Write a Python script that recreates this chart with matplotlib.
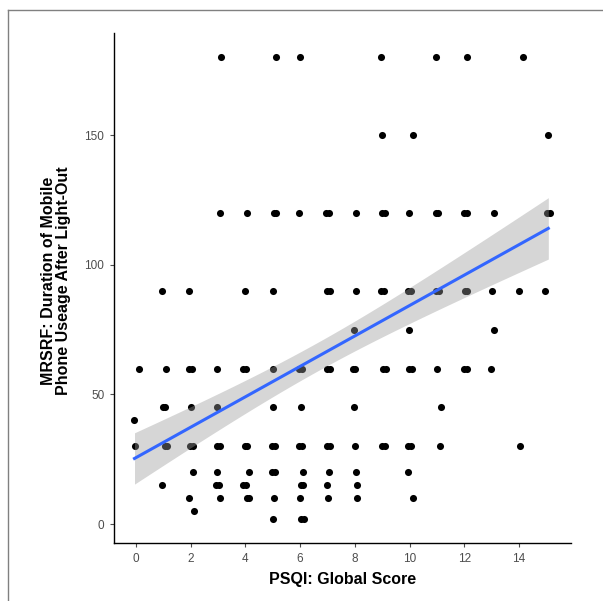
import numpy as np
import matplotlib
matplotlib.use("Agg")
import matplotlib.pyplot as plt
from matplotlib.lines import Line2D

# jittered PSQI scores (x) for each duration level (y)
row_180 = [3.1, 5.12, 5.99, 8.95, 10.95, 12.1, 14.13]
row_150 = [9.0, 10.13, 15.06]
row_120 = [3.07, 4.06, 5.03, 5.13, 5.95, 6.95, 7.05, 8.04, 8.99, 9.09, 9.98,
           10.95, 11.05, 12.0, 12.1, 13.07, 15.02, 15.12]
row_90 = [0.96, 1.94, 3.98, 5.0, 6.98, 7.08, 8.06, 8.95, 9.05, 9.95, 10.05,
          10.98, 11.08, 12.01, 12.11, 13.0, 14.0, 14.95]
row_75 = [7.97, 9.99, 13.07]
row_60 = [0.12, 1.1, 1.95, 2.05, 2.98, 3.93, 4.03, 5.02, 5.97, 6.07, 6.98, 7.08,
          7.92, 8.02, 9.03, 9.13, 9.99, 10.09, 11.01, 12.0, 12.1, 12.97]
row_45 = [0.98, 1.08, 2.0, 2.97, 5.02, 6.02, 7.98, 11.15]
row_40 = [-0.05]
row_30 = [-0.04, 1.05, 1.15, 1.98, 2.08, 2.98, 3.08, 3.97, 4.07, 4.97, 5.07,
          5.97, 6.07, 6.98, 7.08, 8.0, 8.99, 9.09, 9.94, 10.04, 11.1, 14.05]
row_20 = [2.09, 2.95, 4.12, 4.99, 5.09, 6.11, 7.05, 8.06, 9.96]
row_15 = [0.94, 2.93, 3.03, 3.93, 4.03, 6.02, 6.12, 6.99, 8.09]
row_10 = [1.95, 3.07, 4.05, 4.15, 5.04, 5.99, 7.03, 8.09, 10.13]
row_5 = [2.12]
row_2 = [5.02, 6.03, 6.13]

rows = {180: row_180, 150: row_150, 120: row_120, 90: row_90, 75: row_75,
        60: row_60, 45: row_45, 40: row_40, 30: row_30, 20: row_20,
        15: row_15, 10: row_10, 5: row_5, 2: row_2}

x_ticks = [0, 2, 4, 6, 8, 10, 12, 14]
y_ticks = [0, 50, 100, 150]

# lm smoother: line ends and band half-widths
lm_x_range = [-0.05, 15.07]
lm_intercept = 25.6
lm_slope = 5.87
lm_band_center = 6.6      # x where the band is narrowest
lm_band_min = 5.5         # half-width there
lm_band_left = 9.85       # half-width at x = 0

x = np.array([v for level in rows for v in rows[level]])
y = np.array([level for level in rows for _ in rows[level]], dtype=float)

xs = np.linspace(lm_x_range[0], lm_x_range[1], 80)
ys = lm_intercept + lm_slope * xs
curv = (lm_band_left ** 2 - lm_band_min ** 2) / lm_band_center ** 2
half = np.sqrt(lm_band_min ** 2 + curv * (xs - lm_band_center) ** 2)

plt.rcParams["font.family"] = ["Liberation Sans", "DejaVu Sans"]

fig = plt.figure(figsize=(6.03, 6.01), dpi=100)
ax = fig.add_axes([0.189, 0.0965, 0.758, 0.8485])

ax.scatter(x, y, s=26, color="black", linewidths=0, zorder=2)
ax.fill_between(xs, ys - half, ys + half, color="#999999", alpha=0.4,
                linewidth=0, zorder=3)
ax.plot(xs, ys, color="#3366FF", linewidth=2.2, zorder=4)

ax.set_xlim(-0.8, 15.9)
ax.set_ylim(-7.3, 189.4)
ax.set_xticks(x_ticks)
ax.set_yticks(y_ticks)
ax.tick_params(colors="#4D4D4D", labelcolor="#4D4D4D", labelsize=8.5,
               length=3, width=0.8)
ax.tick_params(axis="x", pad=4)
ax.tick_params(axis="y", pad=4)
for side in ["top", "right"]:
    ax.spines[side].set_visible(False)
for side in ["left", "bottom"]:
    ax.spines[side].set_linewidth(1.0)
    ax.spines[side].set_color("black")

ax.set_xlabel("PSQI: Global Score", fontsize=11.5, fontweight="bold", labelpad=5)
fig.text(0.0935, 0.533, "MRSRF: Duration of Mobile\nPhone Useage After Light-Out",
         rotation=90, ha="center", va="center", multialignment="center",
         fontsize=11.5, fontweight="bold", linespacing=1.0)

# thin frame of the original screenshot
fig.add_artist(Line2D([8 / 603, 8 / 603], [0, 1 - 10 / 601],
                      color="#808080", linewidth=1.0))
fig.add_artist(Line2D([8 / 603, 1], [1 - 10 / 601, 1 - 10 / 601],
                      color="#808080", linewidth=1.0))

fig.savefig("out.png", dpi=100)
